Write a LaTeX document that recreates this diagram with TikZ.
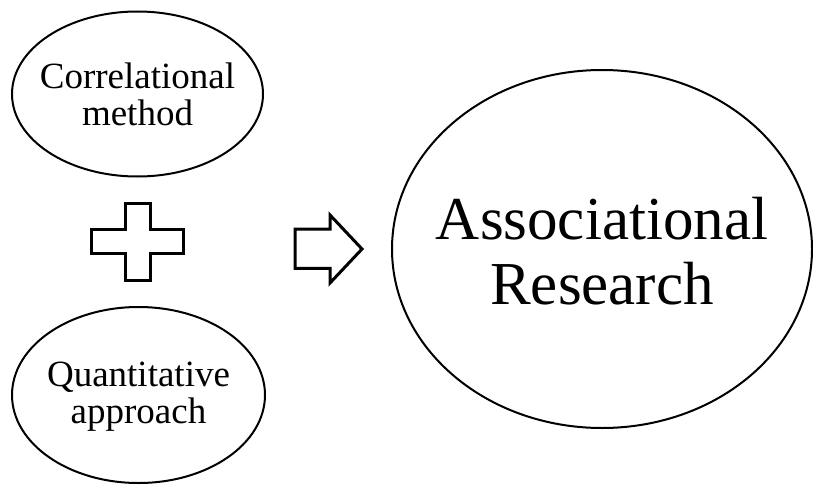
\documentclass[tikz,border=0pt]{standalone}
\usepackage{fontspec}
\setmainfont{Liberation Serif}

\def\px{0.75pt}

\begin{document}
\begin{tikzpicture}[x=\px,y=-\px,line join=miter]
    \tikzstyle{bubble}=[draw,line width=1.5pt]
    \tikzstyle{small label}=[inner sep=0pt,align=center,font=\fontsize{27.75}{27.75}\selectfont]
    \tikzstyle{big label}=[inner sep=0pt,align=center,font=\fontsize{45.75}{48.75}\selectfont]
    \tikzstyle{symbol}=[draw,line width=2.25pt]

    \useasboundingbox (0,0) rectangle (813,485);

    % Draw the two source ellipses
    \node[small label] (corr) at (137.5,94) {Correlational\\method};
    \draw[bubble] (corr.center) ellipse [x radius=125.5*\px, y radius=82.5*\px];
    \node[small label] (quant) at (138.5,397) {Quantitative\\approach};
    \draw[bubble] (138.5,395) ellipse [x radius=126.5*\px, y radius=88*\px];

    % Draw the result ellipse
    \node[big label] (assoc) at (602,251) {Associational\\Research};
    \draw[bubble] (assoc.center) ++(0,-2) ellipse [x radius=210*\px, y radius=179*\px];

    % Centres of the plus and the arrow
    \coordinate (plus) at (137.5,241.7);
    \coordinate (arrow) at (328.5,249);

    % Draw the plus sign
    \draw[symbol,shift={(plus)}] (-12.5,-38.4) -- (12.5,-38.4) -- (12.5,-12.7) -- (45.8,-12.7)
        -- (45.8,11.6) -- (12.5,11.6) -- (12.5,38.3) -- (-12.5,38.3) -- (-12.5,11.6)
        -- (-45.8,11.6) -- (-45.8,-12.7) -- (-12.5,-12.7) -- cycle;

    % Draw the block arrow
    \draw[symbol,shift={(arrow)}] (-33.5,-20) -- (1.5,-20) -- (1.5,-34) -- (33.5,0)
        -- (1.5,34) -- (1.5,19.3) -- (-33.5,19.3) -- cycle;
\end{tikzpicture}
\end{document}
